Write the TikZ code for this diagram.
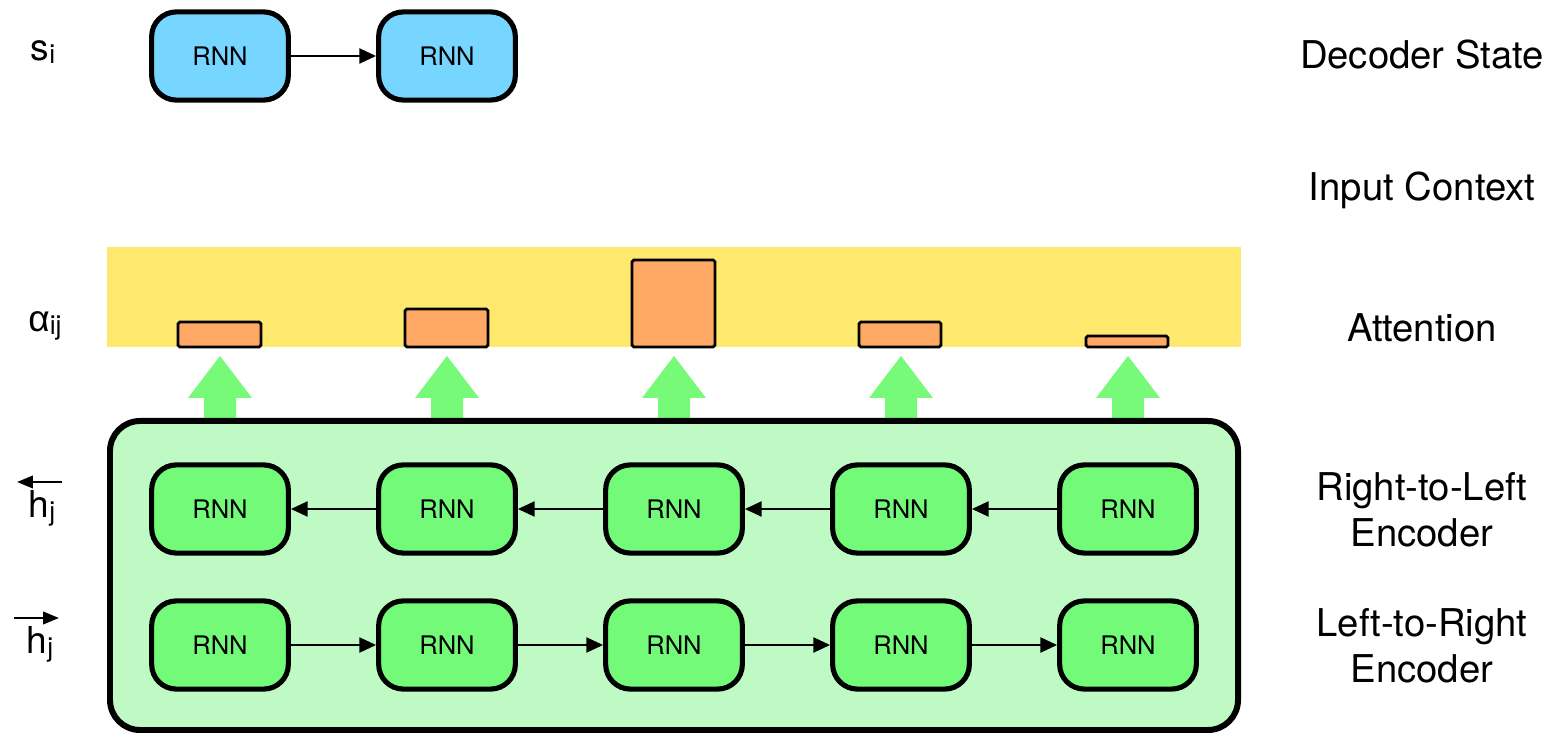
\documentclass[tikz,border=0pt]{standalone}
\usepackage{fontspec}
\setmainfont{TeX Gyre Heros}
\newfontfamily\grk{Liberation Sans}
\usetikzlibrary{arrows.meta}
\definecolor{decblue}{HTML}{76D6FF}
\definecolor{encgreen}{HTML}{73FA79}
\definecolor{boxgreen}{HTML}{BFFAC4}
\definecolor{arrgreen}{HTML}{77FA78}
\definecolor{attyellow}{HTML}{FFE86E}
\definecolor{barorange}{HTML}{FFA866}
\tikzset{
  rnn/.style={draw=black, line width=2.9pt, rounded corners=14pt,
    minimum width=77.5pt, minimum height=50pt, inner sep=0pt,
    font=\fontsize{14.5}{16}\selectfont},
  decnode/.style={rnn, fill=decblue},
  encnode/.style={rnn, fill=encgreen},
  conn/.style={line width=1.3pt, -{Triangle[length=9.5pt,width=8.5pt]}},
  sidelabel/.style={font=\fontsize{21.7}{26}\selectfont, align=center, inner sep=0pt},
  leftlabel/.style={font=\fontsize{21}{24}\selectfont, inner sep=0pt},
  subs/.style={},
  bar/.style={draw=black, line width=1.6pt, fill=barorange, rounded corners=1pt},
  bigarrow/.style={fill=arrgreen},
  harrow/.style={line width=1.4pt, -{Triangle[length=9pt,width=7pt]}}
}
\newcommand{\subtxt}[1]{\raisebox{-0.08em}{\fontsize{15}{15}\selectfont #1}}
\begin{document}
\begin{tikzpicture}[x=0.567pt,y=-0.567pt]
\useasboundingbox (0,0) rectangle (1550,736);

% decoder
\node[decnode] (d1) at (220,56) {RNN};
\node[decnode] (d2) at (447,56) {RNN};
\draw[conn] (d1) -- (d2);

% attention band
\fill[attyellow] (107,247) rectangle (1241,347);
\draw[bar] (178,322) rectangle (261,347);
\draw[bar] (405,309) rectangle (488,347);
\draw[bar] (632,260) rectangle (715,347);
\draw[bar] (859,322) rectangle (941,347);
\draw[bar] (1086,336) rectangle (1168,347);

% green arrows
\foreach \cx in {220,447,674,901,1128}{
  \fill[bigarrow] (\cx,356) -- (\cx+32,398) -- (\cx+16,398) -- (\cx+16,424)
     -- (\cx-16,424) -- (\cx-16,398) -- (\cx-32,398) -- cycle;
}

% encoder container
\draw[line width=3.4pt, fill=boxgreen, rounded corners=17pt] (110,421) rectangle (1238,730);

% encoder nodes
\foreach \i/\cx in {1/220,2/447,3/674,4/901,5/1128}{
  \node[encnode] (r\i) at (\cx,509) {RNN};
  \node[encnode] (l\i) at (\cx,645) {RNN};
}
\foreach \a/\b in {1/2,2/3,3/4,4/5}{
  \draw[conn] (r\b) -- (r\a);
  \draw[conn] (l\a) -- (l\b);
}

% right labels
\node[sidelabel] (ds) at (1422,55) {Decoder State};
\node[sidelabel] (ic) at (1422,190) {Input Context};
\node[sidelabel] (at) at (1422,328) {Attention};
\node[sidelabel] (rl) at (1422,510) {Right-to-Left\\Encoder};
\node[sidelabel] (lr) at (1422,646) {Left-to-Right\\Encoder};

% left labels
\node[leftlabel] (si) at (43,52) {s\subtxt{i}};
\node[leftlabel] (al) at (45,326) {{\grk α}\subtxt{ij}};
\node[leftlabel] (hl) at (42,508) {h\subtxt{j}};
\node[leftlabel] (hr) at (40,644) {h\subtxt{j}};
\coordinate (hla) at (62,482);
\coordinate (hlb) at (17,482);
\coordinate (hra) at (14,618);
\coordinate (hrb) at (59,618);
\draw[harrow] (hla) -- (hlb);
\draw[harrow] (hra) -- (hrb);
\end{tikzpicture}
\end{document}
